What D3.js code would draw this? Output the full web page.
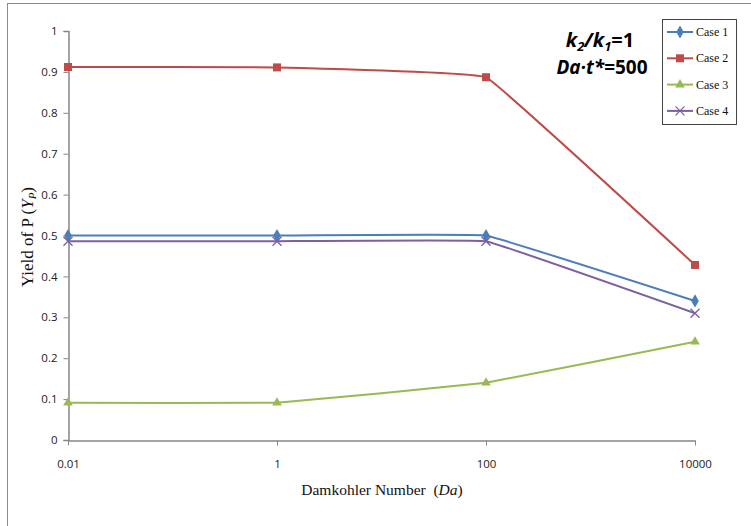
<!DOCTYPE html>
<html>
<head>
<meta charset="utf-8">
<title>Yield vs Damkohler</title>
<script src="https://cdnjs.cloudflare.com/ajax/libs/d3/7.8.5/d3.min.js"></script>
<style>
  body { margin: 0; background: white; }
  .tick-label { font-family: "Open Sans", "DejaVu Sans", sans-serif; font-size: 11.5px; fill: #222; }
  .axis-title { font-family: "Liberation Serif", serif; font-size: 15.5px; fill: #111; }
  .legend-text { font-family: "Liberation Serif", serif; font-size: 12px; fill: #111; }
  .note { font-family: "Open Sans", "DejaVu Sans", sans-serif; font-size: 19px; font-weight: bold; fill: #000; }
</style>
</head>
<body>
<div id="chart"></div>
<script>
const daValues = [0.01, 1, 100, 10000];
const seriesNames = ["Case 1", "Case 2", "Case 3", "Case 4"];
const case1 = [0.50, 0.50, 0.50, 0.34];
const case2 = [0.912, 0.911, 0.887, 0.428];
const case3 = [0.091, 0.091, 0.140, 0.240];
const case4 = [0.486, 0.486, 0.486, 0.310];
const yTicks = [0, 0.1, 0.2, 0.3, 0.4, 0.5, 0.6, 0.7, 0.8, 0.9, 1];
const xTicks = [0.01, 1, 100, 10000];

const colors = ["#4A7EBB", "#BE4B48", "#98B954", "#7D60A0"];
const shapes = ["diamond", "square", "triangle", "cross"];
const series = [case1, case2, case3, case4].map((vals, i) => ({
  name: seriesNames[i], color: colors[i], shape: shapes[i],
  points: vals.map((v, j) => ({ x: daValues[j], y: v }))
}));

const W = 751, H = 526;
const svg = d3.select("#chart").append("svg").attr("width", W).attr("height", H);

// outer chart frame
svg.append("rect").attr("x", 7.5).attr("y", 3.5).attr("width", 760).attr("height", 560)
  .attr("fill", "white").attr("stroke", "#8c8c8c").attr("stroke-width", 1);

const x = d3.scaleLog().domain([0.01, 10000]).range([68, 695]);
const y = d3.scaleLinear().domain([0, 1]).range([440, 31]);

// y axis
const yAxis = svg.append("g").attr("transform", "translate(68.5,0)")
  .call(d3.axisLeft(y).tickValues(yTicks).tickSize(5).tickPadding(6).tickFormat(d => d));
yAxis.select(".domain").attr("stroke", "#868686").attr("stroke-width", 1.5);
yAxis.selectAll(".tick line").attr("stroke", "#868686");
yAxis.selectAll("text").attr("class", "tick-label");

// x axis
const xAxis = svg.append("g").attr("transform", "translate(0,440.5)")
  .call(d3.axisBottom(x).tickValues(xTicks).tickSize(5).tickSizeOuter(0).tickPadding(14)
    .tickFormat(d => String(d)));
xAxis.select(".domain").attr("stroke", "#868686").attr("stroke-width", 1.5);
xAxis.selectAll(".tick line").attr("stroke", "#868686");
xAxis.selectAll("text").attr("class", "tick-label");

// lines (lightly smoothed like the spreadsheet)
const line = d3.line().x(d => x(d.x)).y(d => y(d.y)).curve(d3.curveCardinal.tension(0.85));
series.forEach(s => {
  svg.append("path").datum(s.points).attr("d", line)
    .attr("fill", "none").attr("stroke", s.color).attr("stroke-width", 2);
});

function drawMarker(g, shape, color, cx, cy) {
  if (shape === "diamond") {
    g.append("path").attr("d", d3.symbol(d3.symbolDiamond, 50)())
      .attr("transform", `translate(${cx},${cy})`).attr("fill", color);
  } else if (shape === "square") {
    g.append("rect").attr("x", cx - 4).attr("y", cy - 4).attr("width", 8).attr("height", 8)
      .attr("fill", color);
  } else if (shape === "triangle") {
    g.append("path").attr("d", d3.symbol(d3.symbolTriangle, 40)())
      .attr("transform", `translate(${cx},${cy})`).attr("fill", color);
  } else {
    g.append("path").attr("d", `M${cx - 4.5},${cy - 4.5}L${cx + 4.5},${cy + 4.5}M${cx - 4.5},${cy + 4.5}L${cx + 4.5},${cy - 4.5}`)
      .attr("stroke", color).attr("stroke-width", 1.3).attr("fill", "none");
  }
}

series.forEach(s => {
  const g = svg.append("g");
  s.points.forEach(p => drawMarker(g, s.shape, s.color, x(p.x), y(p.y)));
});

// axis titles
const xt = svg.append("text").attr("class", "axis-title").attr("x", 382).attr("y", 495)
  .attr("text-anchor", "middle");
xt.append("tspan").attr("xml:space", "preserve").text("Damkohler Number  (");
xt.append("tspan").attr("font-style", "italic").text("Da");
xt.append("tspan").text(")");

const yt = svg.append("text").attr("class", "axis-title").style("font-size", "17px")
  .attr("transform", "translate(33,237) rotate(-90)").attr("text-anchor", "middle");
yt.append("tspan").text("Yield of P (");
yt.append("tspan").attr("font-style", "italic").text("Y");
yt.append("tspan").attr("font-style", "italic").attr("font-size", "11px").attr("dy", 3).text("P");
yt.append("tspan").attr("dy", -3).text(")");

// annotation
const n1 = svg.append("text").attr("class", "note").style("font-size", "20px")
  .attr("x", 600).attr("y", 47).attr("text-anchor", "middle");
n1.append("tspan").attr("font-style", "italic").text("k");
n1.append("tspan").attr("font-style", "italic").attr("font-size", "13px").attr("dy", 4).text("2");
n1.append("tspan").attr("font-style", "italic").attr("dy", -4).text("/k");
n1.append("tspan").attr("font-style", "italic").attr("font-size", "13px").attr("dy", 4).text("1");
n1.append("tspan").attr("dy", -4).text("=1");

const n2 = svg.append("text").attr("class", "note").attr("x", 602).attr("y", 74).attr("text-anchor", "middle");
n2.append("tspan").attr("font-style", "italic").text("Da·t*");
n2.append("tspan").text("=500");

// legend
const lg = svg.append("g");
lg.append("rect").attr("x", 662.5).attr("y", 19.5).attr("width", 74).attr("height", 105)
  .attr("fill", "white").attr("stroke", "#444").attr("stroke-width", 1);
series.forEach((s, i) => {
  const cy = 32 + i * 26.3;
  lg.append("line").attr("x1", 667).attr("x2", 693).attr("y1", cy).attr("y2", cy)
    .attr("stroke", s.color).attr("stroke-width", 2);
  drawMarker(lg, s.shape, s.color, 680, cy);
  lg.append("text").attr("class", "legend-text").attr("x", 696).attr("y", cy + 4).text(s.name);
});
</script>
</body>
</html>
